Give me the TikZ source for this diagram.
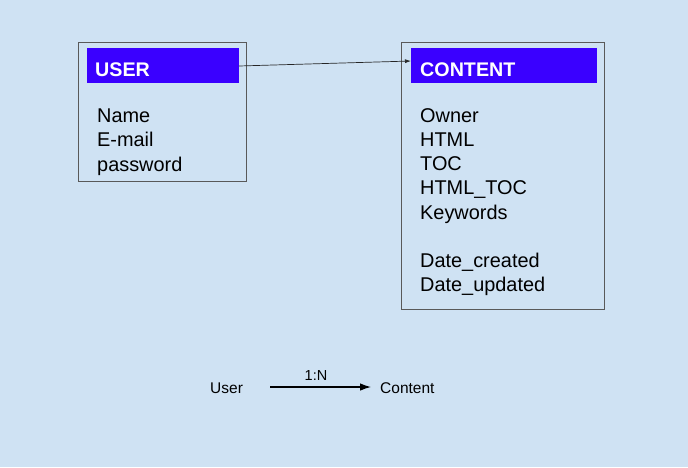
\documentclass[tikz,border=0pt]{standalone}
\usepackage{fontspec}
\setmainfont{Liberation Sans}
\usetikzlibrary{arrows.meta}
\definecolor{bg}{HTML}{CFE2F3}
\definecolor{hdr}{HTML}{3A00FF}
\definecolor{frame}{HTML}{595959}
\begin{document}
\begin{tikzpicture}[x=1pt,y=-1pt,
  entity/.style={draw=frame,line width=0.9pt},
  header/.style={fill=hdr},
  hdrtext/.style={anchor=base west,inner sep=0pt,text=white,font=\fontsize{19.7}{23}\selectfont\bfseries},
  field/.style={anchor=base west,inner sep=0pt,font=\fontsize{19.9}{23}\selectfont},
  legend/.style={anchor=base west,inner sep=0pt,font=\fontsize{15.5}{18}\selectfont},
  relation/.style={draw=black!85,line width=0.7pt,-{Latex[length=6pt,width=4pt]}},
  legendarrow/.style={draw=black,line width=1.1pt,-{Latex[length=11pt,width=7.5pt]}}]
\fill[bg] (0,0) rectangle (688,467);
\useasboundingbox (0,0) rectangle (688,467);
% USER entity
\node[entity,minimum width=168pt,minimum height=139pt,inner sep=0pt] (userbox) at (162,111.5) {};
\node[header,minimum width=152pt,minimum height=35pt,inner sep=0pt] (userhdr) at (163,65.5) {};
\node[hdrtext] (usertitle) at (95,76) {USER};
\node[field] (uname) at (97,122) {Name};
\node[field] (umail) at (97,146.5) {E-mail};
\node[field] (upass) at (97,171) {password};
% CONTENT entity
\node[entity,minimum width=203pt,minimum height=267pt,inner sep=0pt] (contentbox) at (502.5,175.5) {};
\node[header,minimum width=186pt,minimum height=35pt,inner sep=0pt] (contenthdr) at (504,65.5) {};
\node[hdrtext] (contenttitle) at (420,76) {CONTENT};
\node[field] (cowner) at (420,122) {Owner};
\node[field] (chtml) at (420,146.3) {HTML};
\node[field] (ctoc) at (420,170.5) {TOC};
\node[field] (chtmltoc) at (420,194.8) {HTML\_TOC};
\node[field] (ckey) at (420,219) {Keywords};
\node[field] (ccreated) at (420,267.5) {Date\_created};
\node[field] (cupdated) at (420,291.8) {Date\_updated};
% relation
\coordinate (relstart) at (239,66);
\coordinate (relend) at (411,61);
\draw[relation] (relstart) -- (relend);
% legend
\node[legend] (luser) at (210,393) {User};
\node[legend] (lcontent) at (380,393) {Content};
\coordinate (lstart) at (270,387);
\coordinate (lend) at (371,387);
\draw[legendarrow] (lstart) -- (lend);
\node[anchor=base,inner sep=0pt,font=\fontsize{14.5}{17}\selectfont] (lcard) at (316,380) {1:N};
\end{tikzpicture}
\end{document}
